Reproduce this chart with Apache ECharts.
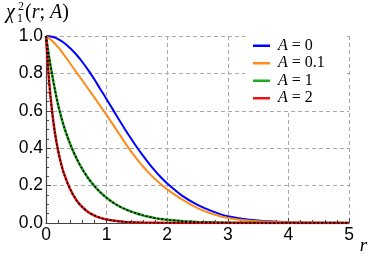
<!DOCTYPE html>
<html><head><meta charset="utf-8">
<script src="https://cdn.jsdelivr.net/npm/echarts@6/dist/echarts.min.js"></script>
<style>html,body{margin:0;padding:0;background:#fff}#c{width:374px;height:259px}</style>
</head><body><div id="c"></div>
<script>
const r      = [0,0.05,0.1,0.15,0.2,0.25,0.3,0.4,0.5,0.6,0.7,0.8,0.9,1.0,1.1,1.2,1.3,1.4,1.5,1.6,1.7,1.8,1.9,2.0,2.25,2.5,2.75,3.0,3.5,4.0,4.5,5.0];
const chiA0  = [1,0.999,0.996,0.991,0.983,0.974,0.963,0.935,0.901,0.861,0.816,0.767,0.714,0.662,0.609,0.555,0.503,0.453,0.405,0.36,0.318,0.279,0.243,0.211,0.145,0.097,0.062,0.036,0.013,0.0045,0.0015,0.0005];
const chiA01 = [1,0.988,0.975,0.958,0.94,0.92,0.898,0.853,0.807,0.762,0.7165,0.6705,0.624,0.577,0.529,0.48,0.431,0.384,0.341,0.302,0.267,0.235,0.206,0.18,0.125,0.08,0.048,0.027,0.009,0.003,0.001,0.0003];
const chiA1  = [1,0.891,0.795,0.708,0.631,0.568,0.512,0.421,0.348,0.288,0.238,0.197,0.163,0.135,0.111,0.091,0.075,0.062,0.051,0.041,0.033,0.026,0.021,0.017,0.01,0.006,0.0035,0.002,0.0007,0.0002,0.0001,0];
const chiA2  = [1,0.763,0.598,0.477,0.387,0.317,0.261,0.18,0.123,0.085,0.058,0.04,0.0275,0.019,0.013,0.009,0.006,0.004,0.003,0.002,0.0014,0.001,0.0007,0.0005,0.0002,0.0001,0,0,0,0,0,0];
const aLabels = ['0','0.1','1','2'];
const xTicks = [0,1,2,3,4,5];
const yTicks = [0,0.2,0.4,0.6,0.8,1.0];

const colors = ['#0000ff','#ff8c1a','#1faa1f','#ee1111'];
const values = [chiA0, chiA01, chiA1, chiA2];
const pts = v => r.map((x,i)=>[x, v[i]]);
const names = aLabels.map(a => 'A = ' + a);

const series = values.map((v,i)=>({
  name: names[i], type:'line', data: pts(v), showSymbol:false, symbol:'none',
  smooth:0.3, color: colors[i],
  lineStyle:{width: i>=2 ? 2.5 : 2, color: colors[i]}, z: 2+i
}));
[chiA1, chiA2].forEach((v,k)=>series.push({
  name:'approx'+k, type:'line', data: pts(v), showSymbol:false, symbol:'none',
  smooth:0.3, silent:true,
  lineStyle:{width:1.6, color:'#000', type:[2,2]}, z:10
}));

const serif = '"Liberation Serif", "DejaVu Serif", serif';
const sans = '"Liberation Sans", Arial, sans-serif';
const chart = echarts.init(document.getElementById('c'), null, {renderer:'canvas'});
chart.setOption({
  animation:false,
  backgroundColor:'#fff',
  grid:{left:46, right:25, top:36, bottom:36, containLabel:false},
  xAxis:{type:'value', min:xTicks[0], max:xTicks[xTicks.length-1], interval:1,
    name:'r', nameLocation:'end', nameGap:9,
    nameTextStyle:{fontFamily:serif, fontStyle:'italic', fontSize:19, color:'#000', align:'left', verticalAlign:'top', padding:[13,0,0,0]},
    axisLine:{lineStyle:{color:'#444', width:1.2}},
    axisTick:{inside:true, length:5, lineStyle:{color:'#444'}},
    minorTick:{show:true, splitNumber:5, length:3, lineStyle:{color:'#444'}},
    splitLine:{show:true, lineStyle:{color:'#a8a8a8', width:1, type:[4,3]}},
    axisLabel:{fontFamily:sans, fontSize:17.5, color:'#000', margin:3}
  },
  yAxis:{type:'value', min:yTicks[0], max:yTicks[yTicks.length-1], interval:0.2,
    axisLine:{show:true, lineStyle:{color:'#444', width:1.2}},
    axisTick:{show:true, inside:true, length:5, lineStyle:{color:'#444'}},
    minorTick:{show:true, splitNumber:4, length:3, lineStyle:{color:'#444'}},
    splitLine:{show:true, lineStyle:{color:'#a8a8a8', width:1, type:[4,3]}},
    axisLabel:{fontFamily:sans, fontSize:17.5, color:'#000', margin:3, formatter:v=>v.toFixed(1)}
  },
  legend:{
    data:names, orient:'vertical', left:245, top:36,
    backgroundColor:'#fff', padding:[1,22,4,8], itemGap:0,
    icon:'rect', itemWidth:17, itemHeight:2.5,
    textStyle:{fontFamily:serif, fontSize:16, color:'#000', lineHeight:17.5, padding:[0,0,0,3],
      rich:{i:{fontFamily:serif, fontStyle:'italic', fontSize:16, color:'#000'}, u:{fontFamily:serif, fontSize:16, color:'#000'}}},
    formatter: n => '{i|A}{u|' + n.slice(1) + '}'
  },
  graphic:[
    {type:'text', left:6, top:3, style:{text:'\u03c7', font:'italic 20px ' + serif, fill:'#000'}},
    {type:'text', left:18, top:1, style:{text:'2', font:'12px ' + serif, fill:'#000'}},
    {type:'text', left:17, top:13, style:{text:'1', font:'12px ' + serif, fill:'#000'}},
    {type:'text', left:25, top:3, style:{text:'{u|(}{i|r}{u|; }{i|A}{u|)}', fill:'#000',
      rich:{u:{fontFamily:serif, fontSize:20, fill:'#000'}, i:{fontFamily:serif, fontStyle:'italic', fontSize:20, fill:'#000'}}}}
  ],
  series
});
</script></body></html>
